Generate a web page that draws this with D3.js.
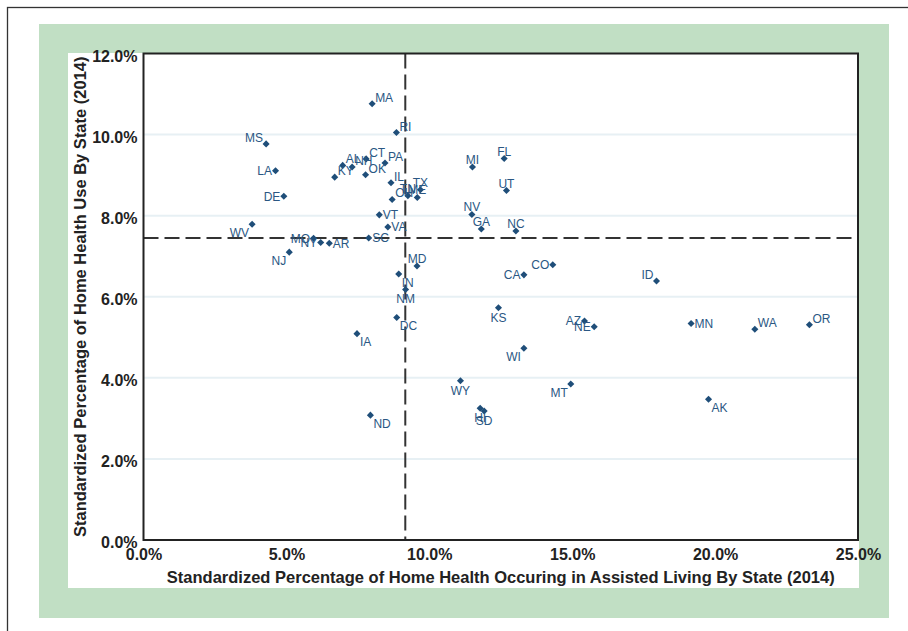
<!DOCTYPE html>
<html>
<head>
<meta charset="utf-8">
<script src="https://cdn.jsdelivr.net/npm/d3@7"></script>
<style>
  html, body { margin: 0; padding: 0; background: #fff; }
  svg { display: block; font-family: "Liberation Sans", Arial, sans-serif; }
</style>
</head>
<body>
<svg id="chart" width="908" height="631"></svg>
<script>
// state codes, x = share of home health in assisted living, y = home health use
const states = ['MA','RI','MS','LA','DE','WV','AL','NH','CT','PA','KY','OK','IL','OH','TN','ME','TX',
  'VT','VA','SC','MO','NY','AR','NJ','MD','IN','NM','DC','IA','ND','WY','HI','SD',
  'MI','FL','UT','NV','GA','NC','CO','CA','KS','AZ','NE','WI','MT','ID','MN','WA','OR','AK']
const xVals = [0.0800,0.0885,0.0429,0.0462,0.0491,0.0380,0.0697,0.0730,0.0779,0.0845,0.0669,0.0777,0.0866,0.0870,0.0925,0.0958,0.0969,
  0.0825,0.0855,0.0788,0.0595,0.0620,0.0650,0.0510,0.0957,0.0893,0.0917,0.0886,0.0747,0.0794,0.1109,0.1178,0.1192,
  0.1151,0.1262,0.1270,0.1149,0.1182,0.1303,0.1432,0.1331,0.1242,0.1543,0.1577,0.1331,0.1495,0.1795,0.1916,0.2139,0.2330,0.1977]
const yVals = [0.1076,0.1005,0.0977,0.0911,0.0848,0.0779,0.0924,0.0920,0.0940,0.0930,0.0895,0.0901,0.0881,0.0840,0.0849,0.0845,0.0864,
  0.0802,0.0772,0.0745,0.0744,0.0734,0.0732,0.0710,0.0676,0.0656,0.0618,0.0549,0.0509,0.0308,0.0393,0.0325,0.0318,
  0.0920,0.0941,0.0862,0.0803,0.0767,0.0762,0.0679,0.0654,0.0573,0.0540,0.0526,0.0473,0.0385,0.0639,0.0534,0.0520,0.0531,0.0347]
// which side of the point the state label sits on
const labelSide = ['tr','tr','tl','l','l','bl','tr','tr','tr','tr','tr','tr','tr','tr','t','t','t',
  'r','r','r','l','l','r','bl','t','br','b','br','br','br','b','b','b',
  't','t','t','t','t','t','l','l','b','l','l','bl','bl','tl','r','tr','tr','br']

const meanX = 0.0916
const meanY = 0.0745
const xTicks = [0, 0.05, 0.10, 0.15, 0.20, 0.25]
const yTicks = [0, 0.02, 0.04, 0.06, 0.08, 0.10, 0.12]

const points = states.map((s, i) => ({ state: s, x: xVals[i], y: yVals[i], side: labelSide[i] }))

const svg = d3.select('#chart')
const pointColor = '#1f4e79'
const fmt = d3.format('.1%')

// frame, green band, white panel
svg.append('rect')
  .attr('x', 7.5).attr('y', 7.5)
  .attr('width', 1000).attr('height', 1000)
  .attr('fill', '#fff')
  .attr('stroke', '#333').attr('stroke-width', 1.3)
svg.append('rect')
  .attr('x', 39).attr('y', 24)
  .attr('width', 850).attr('height', 594)
  .attr('fill', '#c1dfc4')
svg.append('rect')
  .attr('x', 68).attr('y', 53)
  .attr('width', 791).attr('height', 535)
  .attr('fill', '#fff')

const x = d3.scaleLinear().domain([0, 0.25]).range([143.5, 858])
const y = d3.scaleLinear().domain([0, 0.12]).range([540, 53.5])

// horizontal grid
svg.append('g')
  .selectAll('line')
  .data(yTicks.slice(1, -1))
  .join('line')
  .attr('x1', x(0)).attr('x2', x(0.25))
  .attr('y1', d => y(d)).attr('y2', d => y(d))
  .attr('stroke', '#e7f0f4')
  .attr('stroke-width', 2)

// y axis labels
const yAxis = svg.append('g')
  .attr('transform', `translate(${x(0)},0)`)
  .call(d3.axisLeft(y).tickValues(yTicks).tickFormat(fmt).tickSize(0).tickPadding(6))
yAxis.select('.domain').remove()
yAxis.selectAll('text')
  .attr('dy', '0.48em')
  .attr('fill', '#222')
  .style('font-size', '16px')
  .style('font-weight', 'bold')
  .style('font-family', '"Liberation Sans", Arial, sans-serif')

// x axis labels
const xAxis = svg.append('g')
  .attr('transform', `translate(0,${y(0)})`)
  .call(d3.axisBottom(x).tickValues(xTicks).tickFormat(fmt).tickSize(0).tickPadding(9))
xAxis.select('.domain').remove()
xAxis.selectAll('text')
  .attr('fill', '#222')
  .style('font-size', '16px')
  .style('font-weight', 'bold')
  .style('font-family', '"Liberation Sans", Arial, sans-serif')

// reference lines at the averages
svg.append('line')
  .attr('x1', x(meanX)).attr('x2', x(meanX))
  .attr('y1', y(0.12)).attr('y2', y(0))
  .attr('stroke', '#333').attr('stroke-width', 2)
  .attr('stroke-dasharray', '15,6')
svg.append('line')
  .attr('x1', x(0)).attr('x2', x(0.25))
  .attr('y1', y(meanY)).attr('y2', y(meanY))
  .attr('stroke', '#333').attr('stroke-width', 2)
  .attr('stroke-dasharray', '15,6')

// plot border
svg.append('rect')
  .attr('x', x(0)).attr('y', y(0.12))
  .attr('width', x(0.25) - x(0)).attr('height', y(0) - y(0.12))
  .attr('fill', 'none')
  .attr('stroke', '#222').attr('stroke-width', 2)

// points
const diamond = d3.symbol(d3.symbolSquare, 25)
svg.append('g')
  .selectAll('path')
  .data(points)
  .join('path')
  .attr('d', diamond)
  .attr('transform', d => `translate(${x(d.x)},${y(d.y)}) rotate(45)`)
  .attr('fill', pointColor)

// labels
const offsets = {
  tr: { dx: 3, dy: -2, anchor: 'start' },
  tl: { dx: -3, dy: -2, anchor: 'end' },
  t: { dx: 0, dy: -3, anchor: 'middle' },
  b: { dx: 0, dy: 14, anchor: 'middle' },
  br: { dx: 3, dy: 12.5, anchor: 'start' },
  bl: { dx: -3, dy: 13, anchor: 'end' },
  l: { dx: -3.5, dy: 4.3, anchor: 'end' },
  r: { dx: 3.5, dy: 4.3, anchor: 'start' }
}
svg.append('g')
  .selectAll('text')
  .data(points)
  .join('text')
  .attr('x', d => x(d.x) + offsets[d.side].dx)
  .attr('y', d => y(d.y) + offsets[d.side].dy)
  .attr('text-anchor', d => offsets[d.side].anchor)
  .attr('fill', '#2a5783')
  .style('font-size', '12px')
  .text(d => d.state)

// axis titles
svg.append('text')
  .attr('x', (x(0) + x(0.25)) / 2)
  .attr('y', 583)
  .attr('text-anchor', 'middle')
  .attr('fill', '#222')
  .style('font-size', '16.5px')
  .style('font-weight', 'bold')
  .text('Standardized Percentage of Home Health Occuring in Assisted Living By State (2014)')

svg.append('text')
  .attr('transform', `translate(86,${(y(0) + y(0.12)) / 2}) rotate(-90)`)
  .attr('text-anchor', 'middle')
  .attr('fill', '#222')
  .style('font-size', '16.5px')
  .style('font-weight', 'bold')
  .text('Standardized Percentage of Home Health Use By State (2014)')
</script>
</body>
</html>
